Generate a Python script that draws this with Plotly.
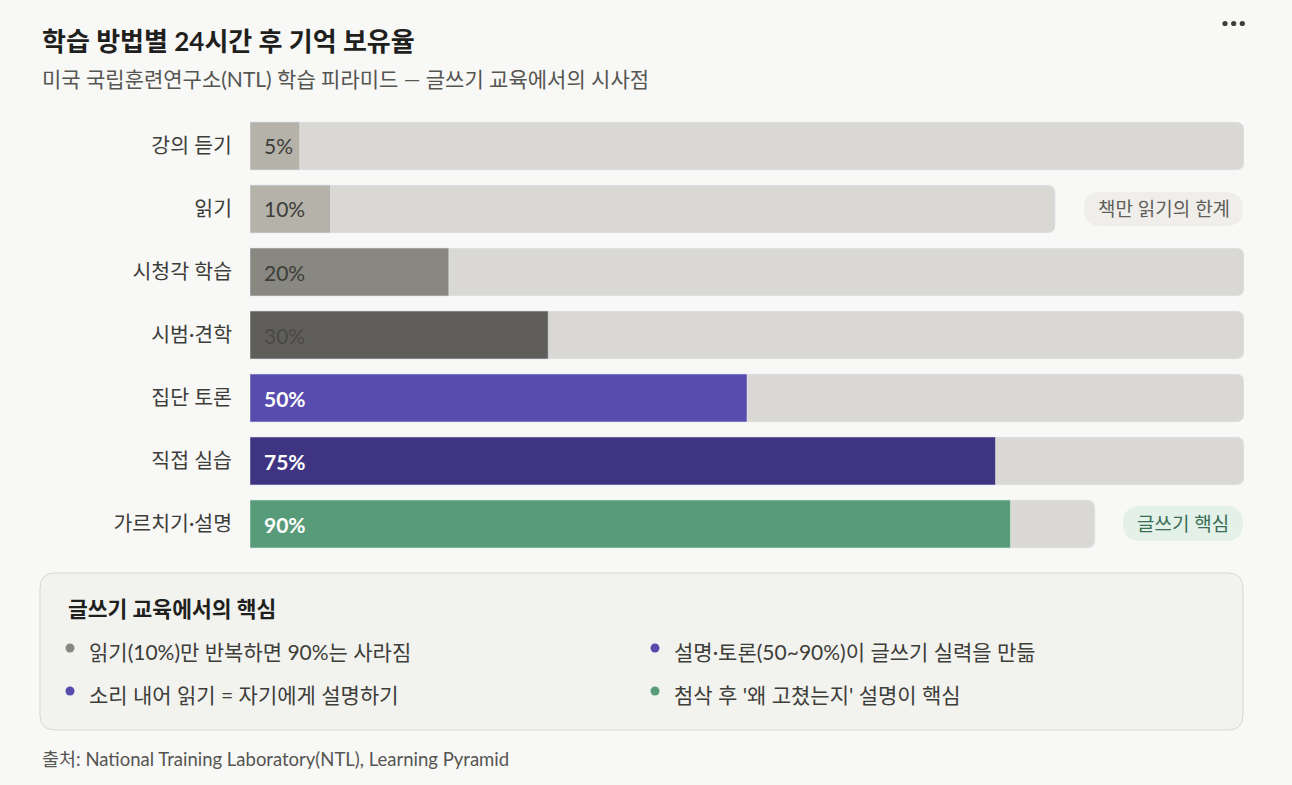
import plotly.graph_objects as go

# Data
methods = ["강의 듣기", "읽기", "시청각 학습", "시범·견학", "집단 토론", "직접 실습", "가르치기·설명"]
retention = [5, 10, 20, 30, 50, 75, 90]
track_len = [100, 81, 100, 100, 100, 100, 85]  # track shortened where a badge sits
bar_colors = ["#b4b2a9", "#b4b2a9", "#888780", "#5f5e5a", "#574cae", "#3f3482", "#579b78"]
label_colors = ["#3d3d3a", "#3d3d3a", "#3d3d3a", "#4a4944", "#ffffff", "#ffffff", "#ffffff"]

badge_texts = ["책만 읽기의 한계", "글쓰기 핵심"]

box_title = "글쓰기 교육에서의 핵심"
bullets_left = ["읽기(10%)만 반복하면 90%는 사라짐", "소리 내어 읽기 = 자기에게 설명하기"]
bullets_right = ["설명·토론(50~90%)이 글쓰기 실력을 만듦", "첨삭 후 '왜 고쳤는지' 설명이 핵심"]
dots_left = ["#888780", "#574cae"]
dots_right = ["#574cae", "#579b78"]

title = "학습 방법별 24시간 후 기억 보유율"
subtitle = "미국 국립훈련연구소(NTL) 학습 피라미드 — 글쓰기 교육에서의 시사점"
source = "출처: National Training Laboratory(NTL), Learning Pyramid"

W, H = 1292, 785
FONT = "Lato, 'Noto Sans CJK KR', 'Noto Sans', sans-serif"


def px(x):
    return x / W


def py(y):
    return 1 - y / H


def rounded(cx, cy, w, h, r, fill, line=None):
    hw, hh = w / 2, h / 2
    path = (f"M {-hw + r},{-hh} L {hw - r},{-hh} Q {hw},{-hh} {hw},{-hh + r} "
            f"L {hw},{hh - r} Q {hw},{hh} {hw - r},{hh} L {-hw + r},{hh} "
            f"Q {-hw},{hh} {-hw},{hh - r} L {-hw},{-hh + r} Q {-hw},{-hh} {-hw + r},{-hh} Z")
    return dict(type="path", xref="paper", yref="paper", xsizemode="pixel", ysizemode="pixel",
                xanchor=px(cx), yanchor=py(cy), path=path, fillcolor=fill,
                line=dict(color=line or fill, width=1 if line else 0), layer="below")


def text_at(fig, x, y, t, size, color, anchor="left"):
    fig.add_annotation(x=px(x), y=py(y), xref="paper", yref="paper", text=t, showarrow=False,
                       xanchor=anchor, yanchor="middle", font=dict(size=size, color=color, family=FONT))


fig = go.Figure()

# gray tracks
fig.add_trace(go.Bar(
    x=track_len, y=methods, orientation="h", width=0.76,
    marker=dict(color="#d9d8d5", cornerradius=7), hoverinfo="skip",
))
# value bars, scaled to each row's track
fig.add_trace(go.Bar(
    x=[v * t / 100 for v, t in zip(retention, track_len)], y=methods, orientation="h", width=0.76,
    marker=dict(color=bar_colors, cornerradius=7), hoverinfo="skip",
))

for m, v, c in zip(methods, retention, label_colors):
    txt = f"<b>{v}%</b>" if c == "#ffffff" else f"{v}%"
    fig.add_annotation(x=0, y=m, xref="x", yref="y", text=txt, showarrow=False,
                       xanchor="left", xshift=12, font=dict(size=21, color=c, family=FONT))

shapes = []

# badges
badge_geo = [(1163.5, 209, 159, 34, "#efeeea", "#5f5e5a"), (1183, 523.5, 120, 35, "#e3f1e9", "#3b6e55")]
for txt, (cx, cy, w, h, bg, fc) in zip(badge_texts, badge_geo):
    shapes.append(rounded(cx, cy, w, h, h / 2, bg))
    text_at(fig, cx, cy, txt, 19, fc, anchor="center")

# bottom box
shapes.append(rounded((40 + 1243) / 2, (573 + 730) / 2, 1203, 157, 15, "#f2f2ee", "#d8d7d2"))

# menu dots
for dx in [1225, 1233.7, 1242.3]:
    shapes.append(dict(type="circle", xref="paper", yref="paper", xsizemode="pixel", ysizemode="pixel",
                       xanchor=px(dx), yanchor=py(23.5), x0=-2.6, x1=2.6, y0=-2.6, y1=2.6,
                       fillcolor="#3d3d3a", line=dict(width=0)))

# bullet dots and texts
for col_x, dots, items in [(70, dots_left, bullets_left), (655, dots_right, bullets_right)]:
    for i, (c, t) in enumerate(zip(dots, items)):
        yy = 648 + i * 43
        shapes.append(dict(type="circle", xref="paper", yref="paper", xsizemode="pixel", ysizemode="pixel",
                           xanchor=px(col_x), yanchor=py(yy), x0=-4.5, x1=4.5, y0=-4.5, y1=4.5,
                           fillcolor=c, line=dict(width=0)))
        text_at(fig, col_x + 17, yy + 3, t, 21, "#3d3d3a")

text_at(fig, 66, 609, f"<b>{box_title}</b>", 21.5, "#1f1f1d")

# titles and source
text_at(fig, 40, 41, f"<b>{title}</b>", 26, "#1f1f1d")
text_at(fig, 40, 79, subtitle, 21, "#555552")
text_at(fig, 40, 759, source, 18.5, "#555552")

fig.update_layout(
    width=W, height=H,
    margin=dict(l=0, r=0, t=0, b=0),
    paper_bgcolor="#f8f8f6", plot_bgcolor="rgba(0,0,0,0)",
    barmode="overlay", showlegend=False,
    font=dict(family=FONT, color="#3d3d3a"),
    shapes=shapes,
    xaxis=dict(domain=[px(250), px(1244)], range=[0, 100], visible=False, fixedrange=True),
    yaxis=dict(domain=[py(555.5), py(114.5)], range=[6.5, -0.5], showgrid=False, zeroline=False,
               showline=False, ticks="", ticklabelstandoff=17, fixedrange=True,
               tickfont=dict(size=20.5, color="#3d3d3a", family=FONT)),
)

fig.write_html("out.html", config={"displayModeBar": False},
               post_script="document.body.style.margin='0';")
